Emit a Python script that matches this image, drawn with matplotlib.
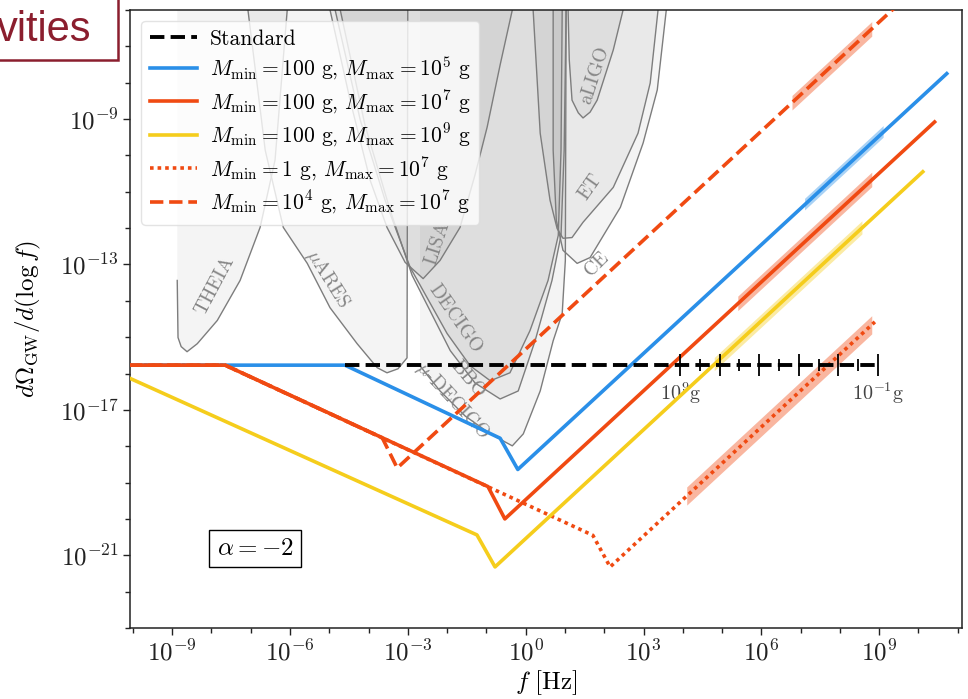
import numpy as np
from matplotlib import pyplot as plt
from matplotlib.patches import Rectangle
from matplotlib.ticker import FixedLocator, FuncFormatter, NullFormatter

plt.rcParams['font.family'] = 'cmr10'
plt.rcParams['mathtext.fontset'] = 'cm'
plt.rcParams['axes.unicode_minus'] = False
plt.rcParams['axes.formatter.use_mathtext'] = True

# GW spectra as breakpoints (log10 f [Hz], log10 Omega)
standard_lf = [-4.60, 9.02]
standard_lo = [-15.77, -15.77]

blue_lf = [-10.1, -4.60, -0.65, -0.20, 10.72]
blue_lo = [-15.77, -15.77, -17.78, -18.64, -7.75]

red_lf = [-10.1, -7.65, -0.96, -0.53, 10.41]
red_lo = [-15.77, -15.77, -19.11, -20.00, -9.08]

yellow_lf = [-10.1, -1.24, -0.78, 10.11]
yellow_lo = [-16.12, -20.44, -21.32, -10.45]

dotted_lf = [-10.1, -7.65, 1.71, 2.15, 8.89]
dotted_lo = [-15.77, -15.77, -20.45, -21.32, -14.58]

dashed_lf = [-10.1, -7.65, -3.65, -3.27, 9.41]
dashed_lo = [-15.77, -15.77, -17.77, -18.60, -5.92]

# shaded uncertainty bands (start/end of each band)
blue_band_lf = [7.10, 9.10]
blue_band_lo = [-11.34, -9.34]
red_band_lf = [5.40, 8.81]
red_band_lo = [-14.07, -10.66]
yellow_band_lf = [4.80, 8.56]
yellow_band_lo = [-15.74, -11.98]
dotted_band_lf = [4.10, 8.81]
dotted_band_lo = [-19.37, -14.66]
dashed_band_lf = [6.78, 8.81]
dashed_band_lo = [-8.55, -6.52]

# PBH mass scale along the standard line
mass_exp = [9, 8, 7, 6, 5, 4, 3, 2, 1, 0, -1]
mass_f_lo, mass_f_hi = 10**3.93, 10**8.97

# detector sensitivity curves
theia_lf = [-8.87, -8.85, -8.77, -8.62, -8.36, -7.85, -7.27, -6.76, -6.38, -6.07]
theia_lo = [-13.44, -15.01, -15.26, -15.40, -15.18, -14.54, -13.44, -11.98, -10.13, -6.0]
mu_ares_lf = [-7.07, -6.63, -6.17, -5.56, -4.98, -4.29, -3.78, -3.53, -3.25, -3.02, -3.00]
mu_ares_lo = [-6.0, -9.86, -11.98, -12.97, -14.19, -15.18, -15.84, -15.98, -15.87, -15.57, -5.5]
lisa_lf = [-4.98, -4.47, -3.96, -3.53, -3.07, -2.61, -2.18, -1.67, -1.29, -0.98, -0.65, -0.34]
lisa_lo = [-6.0, -8.48, -10.68, -11.98, -12.94, -13.39, -12.89, -11.98, -10.54, -9.22, -7.51, -6.0]
decigo_lf = [-4.85, -4.21, -3.58, -2.94, -2.00, -1.41, -0.90, -0.40, 0.11, 0.57, 0.83, 0.90, 0.93]
decigo_lo = [-6.0, -9.03, -11.23, -13.08, -14.90, -15.79, -16.20, -15.98, -14.82, -13.44, -12.20, -9.86, -6.0]
bbo_lf = [-4.72, -4.09, -3.45, -2.89, -1.92, -1.29, -0.65, -0.19, 0.24, 0.67, 0.90, 0.98, 1.03]
bbo_lo = [-6.0, -9.17, -11.51, -13.30, -15.37, -16.26, -16.70, -16.48, -15.10, -13.44, -12.20, -9.86, -6.0]
udecigo_lf = [-2.69, -2.18, -1.54, -0.90, -0.34, -0.06, 0.37, 0.70, 0.93, 1.01, 1.03]
udecigo_lo = [-15.79, -16.48, -17.17, -17.66, -17.99, -17.66, -16.48, -15.10, -14.35, -12.89, -6.0]
aligo_lf = [1.08, 1.11, 1.18, 1.34, 1.46, 1.64, 1.82, 2.23, 2.48]
aligo_lo = [-6.0, -7.37, -8.48, -8.83, -8.97, -8.81, -8.48, -7.10, -6.0]
et_lf = [0.19, 0.37, 0.62, 0.80, 0.95, 1.18, 1.46, 2.23, 2.86, 3.17, 3.37]
et_lo = [-6.0, -9.39, -11.23, -12.01, -12.28, -12.26, -11.84, -10.88, -9.39, -8.01, -6.0]
ce_lf = [0.70, 0.70, 0.78, 0.95, 1.31, 1.64, 2.41, 2.99, 3.35, 3.58]
ce_lo = [-6.0, -9.86, -11.79, -12.61, -12.97, -12.81, -11.43, -9.66, -8.20, -6.0]

det_names = [r'THEIA', r'$\mu$ARES', r'LISA', r'DECIGO', r'BBO', r'$\mu$-DECIGO',
             r'aLIGO', r'ET', r'CE']
det_label_lf = [-7.91, -5.03, -2.25, -1.80, -1.46, -1.87, 1.77, 1.64, 1.82]
det_label_lo = [-13.58, -13.39, -12.42, -14.49, -16.15, -16.75, -7.79, -10.88, -12.97]
det_label_rot = [62, -58, 72, -55, -50, -47, 72, 55, 45]

xtick_exp = [-9, -6, -3, 0, 3, 6, 9]
ytick_exp = [-21, -17, -13, -9]

blue = '#2a8fe8'
red = '#f04a12'
yellow = '#f5cd1c'
slide_red = '#8b1e2e'


def p10(v):
    return 10.0 ** np.asarray(v, dtype=float)


fig = plt.figure(figsize=(9.68, 6.99), dpi=100)
ax = fig.add_axes([0.1348, 0.1016, 0.8595, 0.8841])
ax.set_xscale('log')
ax.set_yscale('log')

# detectors: fill above each curve, grey outline
detectors = [(theia_lf, theia_lo), (mu_ares_lf, mu_ares_lo), (lisa_lf, lisa_lo),
             (decigo_lf, decigo_lo), (bbo_lf, bbo_lo), (udecigo_lf, udecigo_lo),
             (aligo_lf, aligo_lo), (et_lf, et_lo), (ce_lf, ce_lo)]
top = -5.0
for lf, lo in detectors:
    xs = [lf[0]] + list(lf) + [lf[-1]]
    ys = [top] + list(lo) + [top]
    ax.fill(p10(xs), p10(ys), color='k', alpha=0.045, lw=0, zorder=1)
    ax.plot(p10(lf), p10(lo), color='#7d7d7d', lw=1.0, zorder=1.2)

for name, lf, lo, rot in zip(det_names, det_label_lf, det_label_lo, det_label_rot):
    ax.text(10**lf, 10**lo, name, rotation=rot, fontsize=14, color='#858585',
            ha='center', va='center', rotation_mode='anchor', zorder=1.3)

# bands
bands = [(blue_band_lf, blue_band_lo, blue, 0.16), (red_band_lf, red_band_lo, red, 0.2),
         (yellow_band_lf, yellow_band_lo, yellow, 0.18),
         (dotted_band_lf, dotted_band_lo, red, 0.25), (dashed_band_lf, dashed_band_lo, red, 0.2)]
for lf, lo, c, w in bands:
    lo = np.asarray(lo)
    ax.fill_between(p10(lf), p10(lo - w), p10(lo + w), color=c, alpha=0.4, lw=0, zorder=2)

# spectra
l_std, = ax.plot(p10(standard_lf), p10(standard_lo), color='k', lw=2.8, ls='--', zorder=3.5,
                 label='Standard')
l_dot, = ax.plot(p10(dotted_lf), p10(dotted_lo), color=red, lw=2.6, ls=(0, (1, 1.1)), zorder=3,
                 label=r'$M_{\rm min} = 1$ g, $M_{\rm max} = 10^7$ g')
l_dash, = ax.plot(p10(dashed_lf), p10(dashed_lo), color=red, lw=2.6, ls='--', zorder=3.6,
                  label=r'$M_{\rm min} = 10^4$ g, $M_{\rm max} = 10^7$ g')
l_blue, = ax.plot(p10(blue_lf), p10(blue_lo), color=blue, lw=2.6, zorder=3.2,
                  label=r'$M_{\rm min} = 100$ g, $M_{\rm max} = 10^5$ g')
l_red, = ax.plot(p10(red_lf), p10(red_lo), color=red, lw=2.6, zorder=3.3,
                 label=r'$M_{\rm min} = 100$ g, $M_{\rm max} = 10^7$ g')
l_yel, = ax.plot(p10(yellow_lf), p10(yellow_lo), color=yellow, lw=2.6, zorder=3.1,
                 label=r'$M_{\rm min} = 100$ g, $M_{\rm max} = 10^9$ g')

# mass scale ticks on the standard line
m = np.array(mass_exp, dtype=float)
mass_f = mass_f_lo * 10 ** ((m[0] - m) * np.log10(mass_f_hi / mass_f_lo) / (m[0] - m[-1]))
for i, fm in enumerate(mass_f):
    ax.plot([fm], [10**standard_lo[0]], marker='|', color='k',
            ms=16 if i % 2 == 0 else 8, mew=1.3, zorder=3.7)
ax.text(mass_f[0], 10**-16.53, r'$10^{9}$g', ha='center', va='center', fontsize=14.5,
        color='#444444')
ax.text(mass_f[-1], 10**-16.53, r'$10^{-1}$g', ha='center', va='center', fontsize=14.5,
        color='#444444')

ax.text(0.1496, 0.128, r'$\alpha = -2$', transform=ax.transAxes, fontsize=18, ha='center',
        va='center', bbox=dict(boxstyle='square,pad=0.3', fc='w', ec='k', lw=1.0), zorder=5)

ax.set_xlim(10**-10.06, 10**11.12)
ax.set_ylim(1e-23, 1e-6)
ax.xaxis.set_major_locator(FixedLocator(p10(xtick_exp)))
ax.xaxis.set_minor_locator(FixedLocator(p10(np.arange(-10, 12))))
ax.yaxis.set_major_locator(FixedLocator(p10(ytick_exp)))
ax.yaxis.set_minor_locator(FixedLocator(p10(np.arange(-23, -5))))
fmt = FuncFormatter(lambda v, p: r'$10^{%d}$' % int(round(np.log10(v))))
ax.xaxis.set_major_formatter(fmt)
ax.yaxis.set_major_formatter(fmt)
ax.xaxis.set_minor_formatter(NullFormatter())
ax.yaxis.set_minor_formatter(NullFormatter())
ax.tick_params(which='major', direction='out', length=5, width=1, labelsize=18, colors='#222222')
ax.tick_params(which='minor', direction='out', length=3.5, width=1, colors='#222222')
for s in ax.spines.values():
    s.set_linewidth(1.1)
    s.set_color('#222222')

ax.set_xlabel(r'$f\ [{\rm Hz}]$', fontsize=18, labelpad=2)
ax.set_ylabel(r'$d\Omega_{\rm GW}/d(\log f)$', fontsize=18, labelpad=12)

leg = ax.legend(handles=[l_std, l_blue, l_red, l_yel, l_dot, l_dash], loc='upper left',
                fontsize=15.5, framealpha=0.8, handlelength=2.2, handletextpad=0.6,
                labelspacing=0.28, borderaxespad=0.5, edgecolor='#dddddd', fancybox=True)
leg.set_zorder(10)

# bits of the slide around the chart
fig.patches.append(Rectangle((-10 / 968, 1 - 60 / 699), 128 / 968, 80 / 699,
                             transform=fig.transFigure, fill=False, ec=slide_red, lw=1.8,
                             clip_on=False))
fig.text(-3 / 968, 1 - 41 / 699, 'vities', fontsize=30, color=slide_red,
         family='Liberation Sans', va='baseline', ha='left')
fig.text(495 / 968, 1 + 15 / 699, 'y', fontsize=40, color=slide_red, family='Liberation Sans',
         weight='bold', va='baseline', ha='center')
fig.text(585 / 968, 1 + 15 / 699, 'g', fontsize=40, color=slide_red, family='Liberation Sans',
         weight='bold', va='baseline', ha='center')

fig.savefig('out.png', dpi=100)
